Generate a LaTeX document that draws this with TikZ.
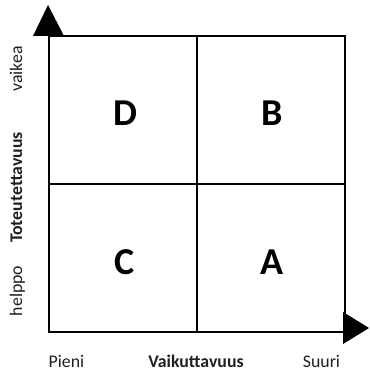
\documentclass[tikz,border=0pt]{standalone}
\usepackage{fontspec}
\setmainfont{Carlito}
\begin{document}
\begin{tikzpicture}[x=1pt,y=-1pt,
  axislbl/.style={inner sep=0pt,anchor=base,font=\fontsize{17.8}{20}\selectfont,text=black!88},
  axisttl/.style={axislbl,font=\fontsize{17.8}{20}\selectfont\bfseries},
  quad/.style={inner sep=0pt,font=\fontsize{38}{40}\selectfont\bfseries},
  frame/.style={line width=1.4pt,draw=black},
  tip/.style={fill=black,draw=none}]
\useasboundingbox (0,0) rectangle (369,374);
% grid
\draw[frame] (49,36) rectangle (345,332);
\draw[frame] (197,36) -- (197,332);
\draw[frame] (49,184) -- (345,184);
% arrow tips
\fill[tip] (48,5) -- (64,36) -- (33,36) -- cycle;
\fill[tip] (343,312) -- (369,328) -- (343,344) -- cycle;
% quadrant letters
\node[quad] (D) at (125,113.5) {D};
\node[quad] (B) at (272,113.5) {B};
\node[quad] (C) at (125,262.5) {C};
\node[quad] (A) at (272,262.5) {A};
% y axis labels
\node[axislbl,rotate=90] (vaikea) at (22,69) {vaikea};
\node[axisttl,rotate=90] (tot) at (22,187.5) {Toteutettavuus};
\node[axislbl,rotate=90] (helppo) at (22,291) {helppo};
% x axis labels
\node[axislbl] (pieni) at (66.5,367) {Pieni};
\node[axisttl] (vaik) at (196,367) {Vaikuttavuus};
\node[axislbl] (suuri) at (321.5,367) {Suuri};
\end{tikzpicture}
\end{document}
